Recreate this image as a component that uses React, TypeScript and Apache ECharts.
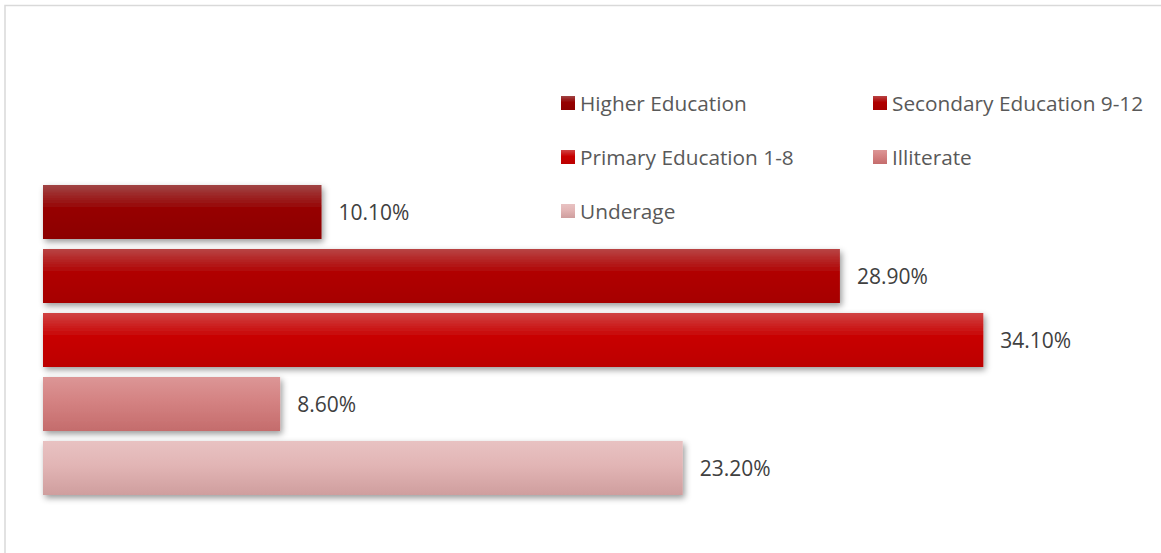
import React, { useEffect, useRef } from "react";
import * as echarts from "echarts";

const categories = ["Education"];
const seriesNames = [
  "Higher Education",
  "Secondary Education 9-12",
  "Primary Education 1-8",
  "Illiterate",
  "Underage",
];
const seriesValues = [10.1, 28.9, 34.1, 8.6, 23.2];
const gradients = [
  ["#a04444", "#960000", "#8c0000"],
  ["#b84444", "#b00000", "#a60000"],
  ["#d04444", "#c80000", "#bc0000"],
  ["#dc9696", "#d48282", "#c46c6c"],
  ["#e8c2c2", "#e2b5b5", "#cf9e9e"],
];

export default function App() {
  const ref = useRef<HTMLDivElement>(null);
  useEffect(() => {
    if (!ref.current) return;
    const chart = echarts.init(ref.current, null, { renderer: "svg" });
    const font = "'Open Sans', 'Noto Sans', sans-serif";
    const series = seriesNames.map((name, i) => ({
      name,
      type: "bar",
      data: [seriesValues[i]],
      barWidth: 54,
      barGap: "18.5%",
      itemStyle: {
        color: new echarts.graphic.LinearGradient(0, 0, 0, 1, [
          { offset: 0, color: gradients[i][0] },
          { offset: 0.45, color: gradients[i][1] },
          { offset: 1, color: gradients[i][2] },
        ]),
        shadowBlur: 6,
        shadowOffsetX: 2,
        shadowOffsetY: 3,
        shadowColor: "rgba(0,0,0,0.4)",
      },
      label: {
        show: true,
        position: "right",
        distance: 17,
        formatter: (p: any) => p.value.toFixed(2) + "%",
        color: "#404040",
        fontSize: 21,
        fontFamily: font,
      },
    }));
    const legendText = { color: "#595959", fontSize: 20.8, fontFamily: font, lineHeight: 24 };
    chart.setOption({
      animation: false,
      backgroundColor: "#ffffff",
      grid: { left: 43, right: 15, top: 150, bottom: 23, containLabel: false },
      xAxis: { type: "value", min: 0, max: 40, show: false },
      yAxis: { type: "category", data: categories, inverse: true, show: false },
      legend: [
        {
          orient: "vertical",
          left: 561,
          top: 91,
          padding: 0,
          itemWidth: 14,
          itemHeight: 14,
          itemGap: 30,
          icon: "rect",
          data: [seriesNames[0], seriesNames[2], seriesNames[4]],
          textStyle: legendText,
        },
        {
          orient: "vertical",
          left: 873,
          top: 91,
          padding: 0,
          itemWidth: 14,
          itemHeight: 14,
          itemGap: 30,
          icon: "rect",
          data: [seriesNames[1], seriesNames[3]],
          textStyle: legendText,
        },
      ],
      graphic: [
        {
          type: "polyline",
          silent: true,
          shape: { points: [[5, 560], [5, 5.5], [1170, 5.5]] },
          style: { stroke: "#d9d9d9", lineWidth: 1.5, fill: null },
        },
      ],
      series,
    });
    return () => chart.dispose();
  }, []);
  return (
    <div
      ref={ref}
      style={{ position: "fixed", left: 0, top: 0, width: 1161, height: 553 }}
    />
  );
}
